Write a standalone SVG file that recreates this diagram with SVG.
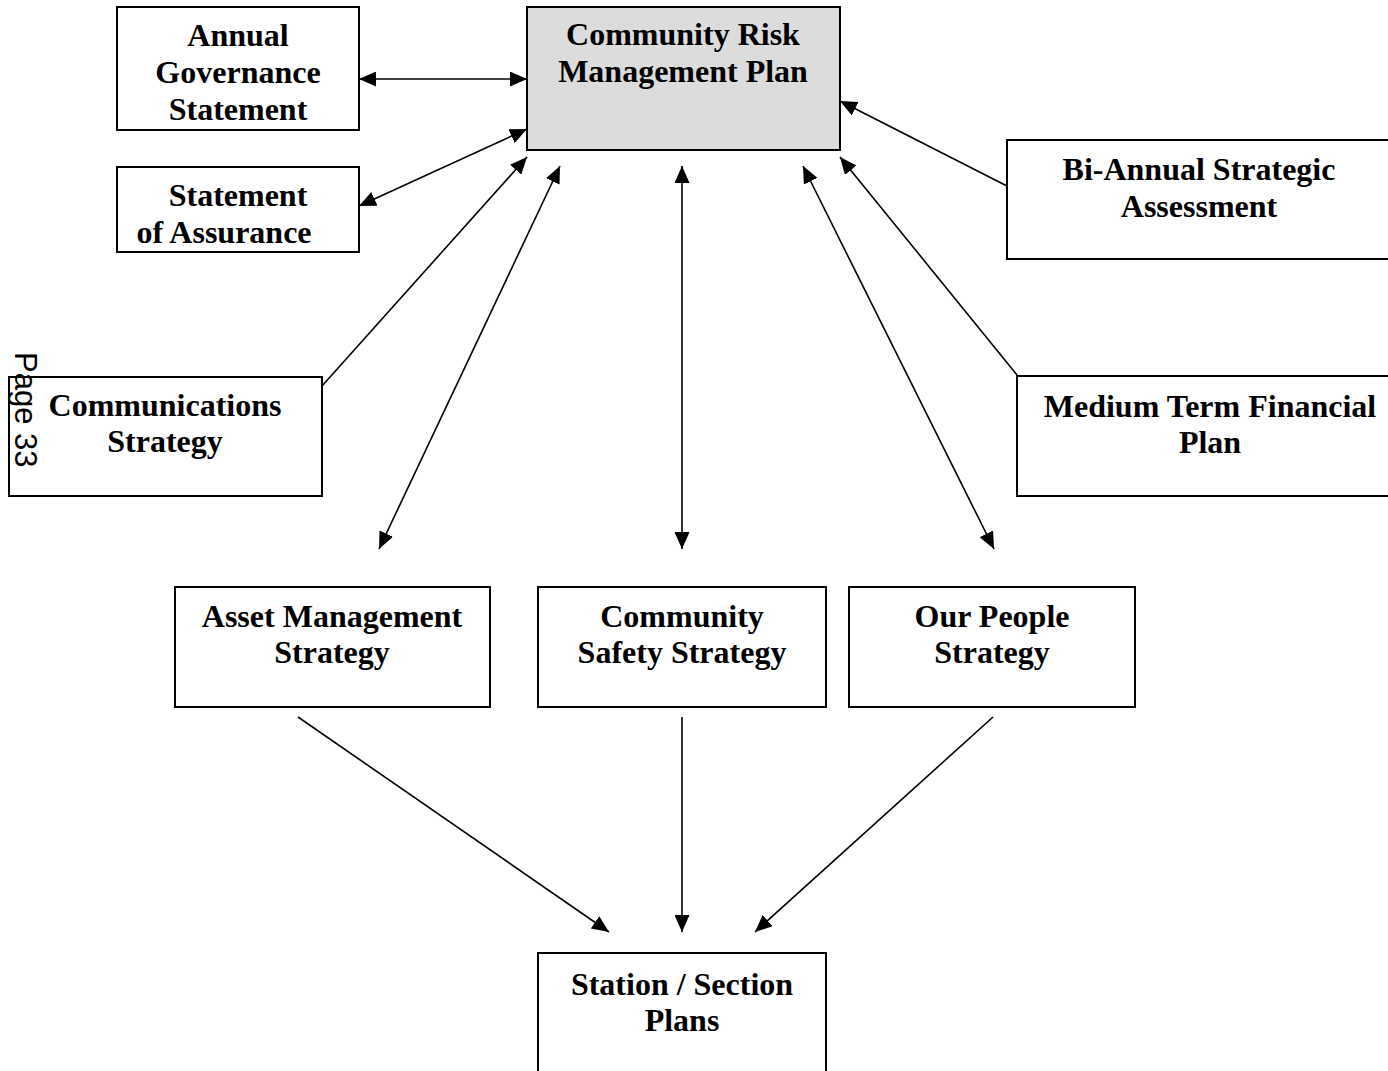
<svg xmlns="http://www.w3.org/2000/svg" width="1388" height="1071" viewBox="0 0 1388 1071">
<style>
.box{fill:#ffffff;stroke:#000;stroke-width:2}
.main{fill:#dcdcdc;stroke:#000;stroke-width:2}
.t{font-family:"Liberation Serif","Times New Roman",serif;font-weight:bold;font-size:32px;fill:#000;text-anchor:middle}
.c{stroke:#000;stroke-width:1.6;fill:none}
.pg{font-family:"Liberation Sans",Arial,sans-serif;font-size:31px;fill:#000}
</style>
<defs>
<marker id="ah" viewBox="0 0 17 15" refX="17" refY="7.5" markerWidth="17" markerHeight="15" orient="auto-start-reverse" markerUnits="userSpaceOnUse">
<path d="M0,0 L17,7.5 L0,15 z" fill="#000"/>
</marker>
</defs>
<rect width="1388" height="1071" fill="#fff"/>
<g id="connectors">
<line class="c" x1="359" y1="79" x2="527" y2="79" marker-start="url(#ah)" marker-end="url(#ah)"/>
<line class="c" x1="359" y1="206" x2="527" y2="129" marker-start="url(#ah)" marker-end="url(#ah)"/>
<line class="c" x1="322" y1="386" x2="527" y2="157" marker-end="url(#ah)"/>
<line class="c" x1="379" y1="549" x2="560" y2="166" marker-start="url(#ah)" marker-end="url(#ah)"/>
<line class="c" x1="682" y1="549" x2="682" y2="166" marker-start="url(#ah)" marker-end="url(#ah)"/>
<line class="c" x1="994" y1="549" x2="803" y2="166" marker-start="url(#ah)" marker-end="url(#ah)"/>
<line class="c" x1="1017" y1="375" x2="840" y2="157" marker-end="url(#ah)"/>
<line class="c" x1="1007" y1="186" x2="840" y2="101" marker-end="url(#ah)"/>
<line class="c" x1="298" y1="717" x2="609" y2="932" marker-end="url(#ah)"/>
<line class="c" x1="682" y1="717" x2="682" y2="932" marker-end="url(#ah)"/>
<line class="c" x1="993" y1="717" x2="755" y2="932" marker-end="url(#ah)"/>
</g>
<g id="crmp">
<rect class="main" x="527" y="7" width="313" height="143"/>
<text class="t" x="683" y="45">Community Risk</text>
<text class="t" x="683" y="82">Management Plan</text>
</g>
<g id="ags">
<rect class="box" x="117" y="7" width="242" height="123"/>
<text class="t" x="238" y="46">Annual</text>
<text class="t" x="238" y="83">Governance</text>
<text class="t" x="238" y="120">Statement</text>
</g>
<g id="soa">
<rect class="box" x="117" y="167" width="242" height="85"/>
<text class="t" x="238" y="206">Statement</text>
<text class="t" x="224" y="243">of Assurance</text>
</g>
<g id="basa">
<rect class="box" x="1007" y="140" width="390" height="119"/>
<text class="t" x="1199" y="180">Bi-Annual Strategic</text>
<text class="t" x="1199" y="217">Assessment</text>
</g>
<g id="comms">
<rect class="box" x="9" y="377" width="313" height="119"/>
<text class="t" x="165" y="416">Communications</text>
<text class="t" x="165" y="452">Strategy</text>
</g>
<g id="mtfp">
<rect class="box" x="1017" y="376" width="390" height="120"/>
<text class="t" x="1210" y="417">Medium Term Financial</text>
<text class="t" x="1210" y="453">Plan</text>
</g>
<g id="asset">
<rect class="box" x="175" y="587" width="315" height="120"/>
<text class="t" x="332" y="627">Asset Management</text>
<text class="t" x="332" y="663">Strategy</text>
</g>
<g id="css">
<rect class="box" x="538" y="587" width="288" height="120"/>
<text class="t" x="682" y="627">Community</text>
<text class="t" x="682" y="663">Safety Strategy</text>
</g>
<g id="people">
<rect class="box" x="849" y="587" width="286" height="120"/>
<text class="t" x="992" y="627">Our People</text>
<text class="t" x="992" y="663">Strategy</text>
</g>
<g id="station">
<rect class="box" x="538" y="953" width="288" height="140"/>
<text class="t" x="682" y="995">Station / Section</text>
<text class="t" x="682" y="1031">Plans</text>
</g>
<text class="pg" transform="translate(15,352) rotate(90)">Page 33</text>
</svg>
